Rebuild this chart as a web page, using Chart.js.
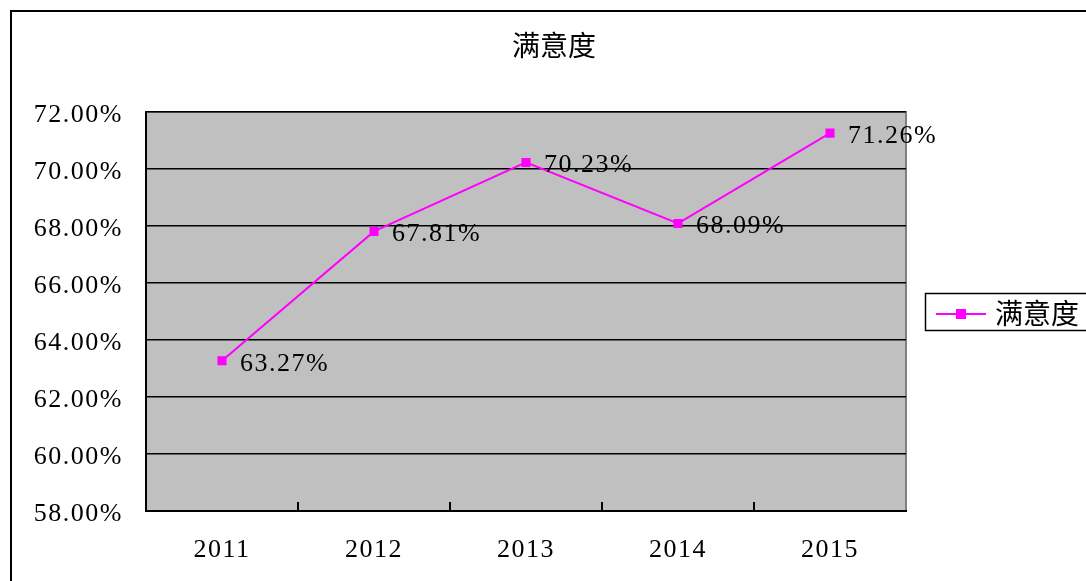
<!DOCTYPE html>
<html>
<head>
<meta charset="utf-8">
<script src="https://cdn.jsdelivr.net/npm/chart.js@4/dist/chart.umd.min.js"></script>
<style>
  html, body { margin: 0; padding: 0; background: #fff; }
  #wrap { width: 1086px; height: 581px; }
</style>
</head>
<body>
<div id="wrap"><canvas id="chart"></canvas></div>
<script>
const years = ['2011', '2012', '2013', '2014', '2015'];
const satisfaction = [63.27, 67.81, 70.23, 68.09, 71.26];
const seriesName = '满意度';
const chartTitle = '满意度';
const yMin = 58, yMax = 72, yStep = 2;

const serif = '"Liberation Serif", "DejaVu Serif", serif';
const cjk = '"Noto Sans CJK SC", sans-serif';
const magenta = '#ff00ff';

// frame, title, plot background, data labels and legend
const decor = {
    id: 'decor',
    beforeLayout(chart) { chart.ctx.letterSpacing = '1.5px'; },
    beforeDraw(chart) {
        const {ctx, chartArea: a} = chart;
        ctx.save();
        ctx.letterSpacing = '0px';
        ctx.fillStyle = '#fff';
        ctx.fillRect(0, 0, chart.width, chart.height);
        ctx.strokeStyle = '#000';
        ctx.lineWidth = 2;
        ctx.beginPath();
        ctx.moveTo(11, chart.height + 5);
        ctx.lineTo(11, 11);
        ctx.lineTo(chart.width + 5, 11);
        ctx.stroke();
        ctx.fillStyle = '#c0c0c0';
        ctx.fillRect(a.left, a.top, a.right - a.left, a.bottom - a.top);
        ctx.strokeStyle = '#808080';
        ctx.lineWidth = 2;
        ctx.beginPath();
        ctx.moveTo(a.left, a.top);
        ctx.lineTo(a.right, a.top);
        ctx.lineTo(a.right, a.bottom);
        ctx.stroke();
        ctx.fillStyle = '#000';
        ctx.font = '28px ' + cjk;
        ctx.textAlign = 'center';
        ctx.textBaseline = 'middle';
        ctx.fillText(chartTitle, 554, 45);
        ctx.restore();
        ctx.letterSpacing = '1.5px';
    },
    afterDraw(chart) {
        const {ctx} = chart;
        const meta = chart.getDatasetMeta(0);
        ctx.save();
        // x axis ticks between categories
        const xs = chart.scales.x, a = chart.chartArea;
        ctx.strokeStyle = '#000';
        ctx.lineWidth = 2;
        for (let i = 1; i < years.length; i++) {
            const x = Math.round((xs.getPixelForValue(i - 1) + xs.getPixelForValue(i)) / 2);
            ctx.beginPath();
            ctx.moveTo(x, a.bottom);
            ctx.lineTo(x, a.bottom - 9);
            ctx.stroke();
        }
        ctx.font = '26px ' + serif;
        ctx.letterSpacing = '1.5px';
        ctx.fillStyle = '#000';
        ctx.textAlign = 'left';
        ctx.textBaseline = 'middle';
        meta.data.forEach((pt, i) => {
            ctx.fillText(satisfaction[i].toFixed(2) + '%', pt.x + 18, pt.y + 3);
        });
        // legend
        ctx.letterSpacing = '0px';
        const ds = chart.data.datasets[0];
        ctx.fillStyle = '#fff';
        ctx.fillRect(925, 293, 170, 37);
        ctx.strokeStyle = '#000';
        ctx.lineWidth = 1.5;
        ctx.strokeRect(925.5, 293.5, 170, 37);
        ctx.strokeStyle = ds.borderColor;
        ctx.lineWidth = 2;
        ctx.beginPath();
        ctx.moveTo(936, 314);
        ctx.lineTo(986, 314);
        ctx.stroke();
        ctx.fillStyle = ds.pointBackgroundColor;
        ctx.fillRect(956, 309, 10, 10);
        ctx.fillStyle = '#000';
        ctx.font = '28px ' + cjk;
        ctx.fillText(ds.label, 995, 313);
        ctx.restore();
    }
};

new Chart(document.getElementById('chart'), {
    type: 'line',
    data: {
        labels: years,
        datasets: [{
            label: seriesName,
            data: satisfaction,
            borderColor: magenta,
            borderWidth: 2,
            pointStyle: 'rect',
            pointRadius: 5,
            pointBackgroundColor: magenta,
            pointBorderColor: magenta,
            tension: 0
        }]
    },
    options: {
        responsive: true,
        maintainAspectRatio: false,
        animation: false,
        layout: { padding: { left: 0, top: 112, right: 180, bottom: 0 } },
        plugins: { legend: { display: false }, title: { display: false }, tooltip: { enabled: false } },
        scales: {
            x: {
                offset: true,
                grid: { display: false, drawTicks: false },
                border: { color: '#000', width: 2 },
                ticks: { color: '#000', font: { family: serif, size: 26 }, padding: 24 },
                afterFit(s) { s.height = 581 - 511; }
            },
            y: {
                min: yMin, max: yMax,
                grid: { color: '#000', lineWidth: 1.5, drawTicks: false },
                border: { color: '#000', width: 2 },
                ticks: {
                    stepSize: yStep,
                    color: '#000',
                    font: { family: serif, size: 26 },
                    padding: 23,
                    labelOffset: 3,
                    callback: v => v.toFixed(2) + '%'
                },
                afterFit(s) { s.width = 146; }
            }
        }
    },
    plugins: [decor]
});
</script>
</body>
</html>
